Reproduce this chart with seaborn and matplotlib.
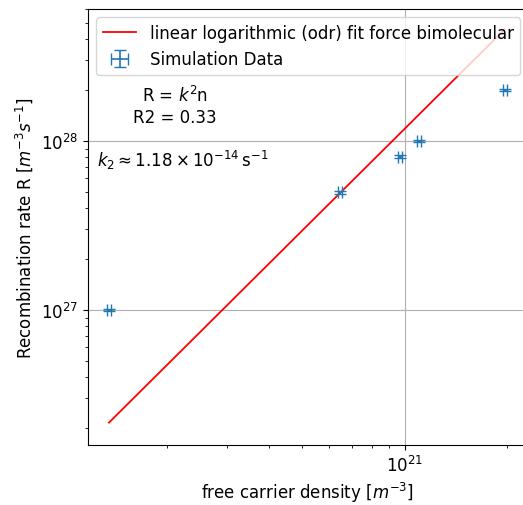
import numpy as np
import pandas as pd
import matplotlib
matplotlib.use("Agg")
import matplotlib.pyplot as plt
import seaborn as sns

# Data
carrier_density = [1.35e20, 6.45e20, 9.7e20, 1.10e21, 1.97e21]
recomb_rate = [1.0e27, 4.95e27, 8.05e27, 1.0e28, 2.0e28]
x_rel_err = [0.012, 0.012, 0.012, 0.012, 0.012]
y_rel_err = [0.018, 0.018, 0.018, 0.018, 0.018]

fit_density = [1.35e20, 1.97e21]
fit_rate = [2.15e26, 4.58e28]

plt.rcParams['font.family'] = ['DejaVu Sans']

fig = plt.figure(figsize=(5.23, 5.06), dpi=100)
ax = fig.add_axes([0.168, 0.1186, 0.841, 0.8616])

fit_df = pd.DataFrame({"n": fit_density, "R": fit_rate})
sns.lineplot(data=fit_df, x="n", y="R", ax=ax, color="red", lw=1.3,
             label="linear logarithmic (odr) fit force bimolecular")

xd = np.array(carrier_density)
yd = np.array(recomb_rate)
ax.errorbar(xd, yd, xerr=xd * np.array(x_rel_err), yerr=yd * np.array(y_rel_err),
            fmt="none", ecolor="#1f77b4", capsize=4, elinewidth=1.2,
            label="Simulation Data")

ax.set_xscale("log")
ax.set_yscale("log")
ax.set_xlim(1.17e20, 2.3e21)
ax.set_ylim(1.585e26, 6.03e28)
ax.grid(True, which="major", color="#b0b0b0", lw=0.8)
ax.tick_params(which="both", direction="out", labelsize=12, colors="black")

ax.set_xlabel(r"free carrier density [$m^{-3}$]", fontsize=12)
ax.set_ylabel(r"Recombination rate R [$m^{-3} s^{-1}$]", fontsize=12)

ax.text(0.198, 0.778, "R = $k^2$n\nR2 = 0.33", transform=ax.transAxes,
        ha="center", va="center", multialignment="center", fontsize=12)
ax.text(0.02, 0.654, r"$k_2 \approx 1.18 \times 10^{-14}\,\mathrm{s}^{-1}$",
        transform=ax.transAxes, ha="left", va="center", fontsize=12)

ax.legend(loc="upper left", fontsize=12, frameon=True)

fig.savefig("out.png", dpi=100)
